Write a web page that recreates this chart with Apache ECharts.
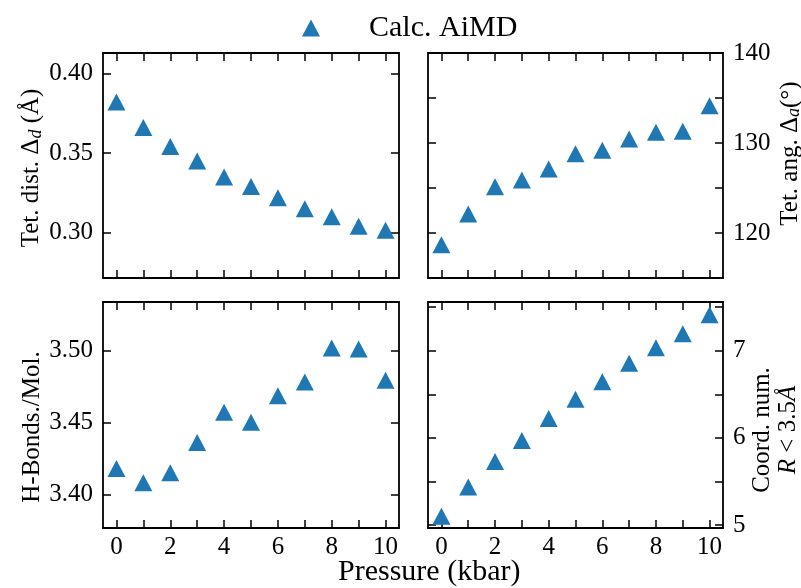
<!DOCTYPE html>
<html>
<head>
<meta charset="utf-8">
<script src="https://cdn.jsdelivr.net/npm/echarts@6/dist/echarts.min.js"></script>
<style>html,body{margin:0;padding:0;background:#fff}#c{width:801px;height:588px}</style>
</head>
<body>
<div id="c"></div>
<script>
const pressure = [0,1,2,3,4,5,6,7,8,9,10];
const tetDist = [0.382,0.366,0.354,0.345,0.335,0.329,0.322,0.315,0.310,0.304,0.3015];
const tetAng = [118.7,122.1,125.15,125.9,127.1,128.8,129.2,130.45,131.2,131.3,134.15];
const hBonds = [3.418,3.408,3.415,3.436,3.457,3.450,3.4685,3.478,3.5016,3.5009,3.4792];
const coordNum = [5.10,5.437,5.728,5.97,6.222,6.444,6.644,6.858,7.034,7.195,7.414];
const xTicks = [0,1,2,3,4,5,6,7,8,9,10];
const xLabels = [0,2,4,6,8,10];
const seriesName = 'Calc. AiMD';

const FONT = 'Liberation Serif';
const COLOR = '#1f77b4';
const chart = echarts.init(document.getElementById('c'));

const grids = [
  {left:103, top:53, width:296, height:225, outerBoundsMode:'none', containLabel:false},
  {left:428, top:53, width:295, height:225, outerBoundsMode:'none', containLabel:false},
  {left:103, top:302, width:296, height:226, outerBoundsMode:'none', containLabel:false},
  {left:428, top:302, width:295, height:226, outerBoundsMode:'none', containLabel:false}
];
const line = {show:true, onZero:false, lineStyle:{color:'#000', width:1.8}};
const tick = (vals)=>({show:true, inside:true, length:8, lineStyle:{color:'#000', width:1.5}, customValues: vals});
const lab = (vals, margin)=>({show:true, customValues: vals, margin: margin, color:'#000', fontFamily:FONT, fontSize:25});
const xAxes = [], yAxes = [];
grids.forEach((g,i)=>{
  const bottom = i>=2;
  xAxes.push({type:'value', gridIndex:i, min:-0.5, max:10.5, position:'bottom', axisLine:line, axisTick:tick(xTicks),
    axisLabel: bottom ? lab(xLabels, 7) : {show:false}, splitLine:{show:false}});
  xAxes.push({type:'value', gridIndex:i, min:-0.5, max:10.5, position:'top', axisLine:line, axisTick:tick(xTicks),
    axisLabel:{show:false}, splitLine:{show:false}});
});
const yCfg = [
  {min:0.2716, max:0.4127, ticks:[0.30,0.35,0.40], labels:[0.30,0.35,0.40], side:'left', fmt:v=>v.toFixed(2),
   name:'Tet. dist. Δ{s|d} (Å)', gap:57, pad:[0,5,0,0]},
  {min:115, max:140, ticks:[120,125,130,135,140], labels:[120,130,140], side:'right', fmt:v=>String(v),
   name:'Tet. ang. Δ{s|a}(°)', gap:54, pad:[0,0,0,24]},
  {min:3.3766, max:3.5336, ticks:[3.40,3.45,3.50], labels:[3.40,3.45,3.50], side:'left', fmt:v=>v.toFixed(2),
   name:'H-Bonds./Mol.', gap:57, pad:[0,24,0,0]},
  {min:4.965, max:7.56, ticks:[5,5.5,6,6.5,7,7.5], labels:[5,6,7], side:'right', fmt:v=>String(v),
   name:'Coord. num.\n{i|R} < 3.5{i|Å}', gap:22, pad:[0,30,0,0]}
];
yCfg.forEach((c,i)=>{
  const other = c.side==='left' ? 'right' : 'left';
  const l = lab(c.labels, 10); l.formatter = c.fmt;
  yAxes.push({type:'value', gridIndex:i, min:c.min, max:c.max, position:c.side, axisLine:line, axisTick:tick(c.ticks),
    axisLabel:l, splitLine:{show:false},
    name:c.name, nameLocation:'middle', nameRotate:90, nameGap:c.gap,
    nameTextStyle:{color:'#000', fontFamily:FONT, fontSize:25, lineHeight:26, padding:c.pad,
      rich:{s:{fontFamily:FONT, fontSize:18, fontStyle:'italic', color:'#000', padding:[9,0,0,0]},
            i:{fontFamily:FONT, fontSize:25, fontStyle:'italic', color:'#000'}}}});
  yAxes.push({type:'value', gridIndex:i, min:c.min, max:c.max, position:other, axisLine:line, axisTick:tick(c.ticks),
    axisLabel:{show:false}, splitLine:{show:false}});
});
const dataSets = [tetDist, tetAng, hBonds, coordNum];
const series = dataSets.map((d,i)=>({
  name: seriesName, type:'scatter', xAxisIndex:2*i, yAxisIndex:2*i,
  symbol:'triangle', symbolSize:[18,17], itemStyle:{color:COLOR, opacity:1},
  data: pressure.map((p,k)=>[p, d[k]])
}));
chart.setOption({
  animation:false,
  grid: grids,
  xAxis: xAxes,
  yAxis: yAxes,
  legend: {data:[seriesName], top:8, left:297, itemWidth:18, itemHeight:17,
    formatter: n => '{g|}' + n,
    textStyle:{color:'#000', fontFamily:FONT, fontSize:30, rich:{g:{width:44}}}},
  title: {text:'Pressure (kbar)', left:333, top:552,
    textStyle:{color:'#000', fontFamily:FONT, fontSize:30, fontWeight:'normal'}},
  series: series
});
</script>
</body>
</html>
